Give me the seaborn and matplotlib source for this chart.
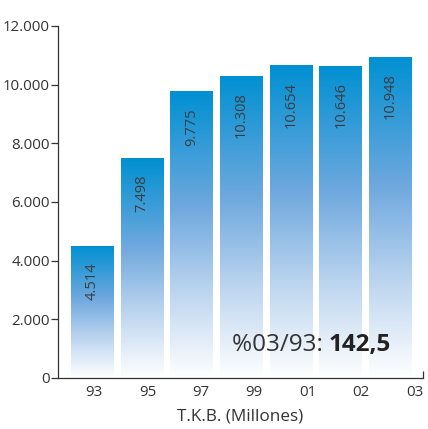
import numpy as np
import pandas as pd
import matplotlib
matplotlib.use("Agg")
import matplotlib.pyplot as plt
import seaborn as sns
from matplotlib.colors import LinearSegmentedColormap
from matplotlib.ticker import FuncFormatter

# Data
years = ["93", "95", "97", "99", "01", "02", "03"]
values = [4514, 7498, 9775, 10308, 10654, 10646, 10948]
value_labels = ["4.514", "7.498", "9.775", "10.308", "10.654", "10.646", "10.948"]
y_ticks = [0, 2000, 4000, 6000, 8000, 10000, 12000]
note_text = "%03/93: "
note_value = "142,5"
x_title = "T.K.B. (Millones)"

TEXT = "#333333"
BLUE = "#0090d2"

sns.set_style("white")
plt.rcParams['font.family'] = ['Open Sans', 'DejaVu Sans']

df = pd.DataFrame({"year": years, "value": values})

fig = plt.figure(figsize=(4.28, 4.29), dpi=100)
ax = fig.add_axes([0.1355, 0.119, 0.8525, 0.8205])

sns.barplot(data=df, x="year", y="value", width=0.866, color=BLUE, ax=ax)

# Per-bar vertical gradient (blue on top -> white at bottom)
cmap = LinearSegmentedColormap.from_list(
    "grad", [(0.0, "#ffffff"), (0.3, "#bcd5ef"), (0.6, "#6ea8de"), (1.0, BLUE)])
grad = np.linspace(0, 1, 256).reshape(-1, 1)
for patch in list(ax.patches):
    x0, y0 = patch.get_x(), patch.get_y()
    w, h = patch.get_width(), patch.get_height()
    patch.set_facecolor("none")
    patch.set_edgecolor("none")
    im = ax.imshow(grad, cmap=cmap, origin="lower", aspect="auto",
                   extent=[x0, x0 + w, y0, y0 + h], zorder=1)
    im.set_clip_path(patch)

# Value labels inside bars, rotated
for i, (v, lab) in enumerate(zip(values, value_labels)):
    ax.annotate(lab, xy=(i, v), xytext=(0, -12), textcoords="offset points",
                rotation=90, ha="center", va="top", fontsize=10.5, color="#3c3c3c",
                zorder=3)

ax.set_xlim(-0.695, 6.654)
ax.set_ylim(0, 12000)
ax.set_yticks(y_ticks)
ax.yaxis.set_major_formatter(FuncFormatter(lambda x, p: f"{x:,.0f}".replace(",", ".")))

# x labels are spread a bit wider than the bars in the original
ax.set_xticks(np.linspace(0.03, 6.49, len(years)))
ax.set_xticklabels(years)
ax.set_xticks([6.654], minor=True)

ax.tick_params(axis="y", which="major", direction="out", length=5, width=0.9,
               color=TEXT, labelsize=10.8, labelcolor=TEXT, pad=1, left=True)
ax.tick_params(axis="x", which="major", length=0, labelsize=10.8,
               labelcolor=TEXT, pad=5)
ax.tick_params(axis="x", which="minor", direction="in", length=5, width=0.9,
               color=TEXT, bottom=True)

for s in ["top", "right"]:
    ax.spines[s].set_visible(False)
for s in ["left", "bottom"]:
    ax.spines[s].set_color(TEXT)
    ax.spines[s].set_linewidth(0.9)

ax.set_ylabel("")
ax.set_xlabel(x_title, fontsize=12.3, color=TEXT, labelpad=6)

ax.text(0.742, 0.077, note_text, transform=ax.transAxes, ha="right",
        va="baseline", fontsize=17.5, color=TEXT, zorder=4)
ax.text(0.742, 0.077, note_value, transform=ax.transAxes, ha="left",
        va="baseline", fontsize=17.5, fontweight="bold", color="#222222", zorder=4)

fig.savefig("out.png", dpi=100)
